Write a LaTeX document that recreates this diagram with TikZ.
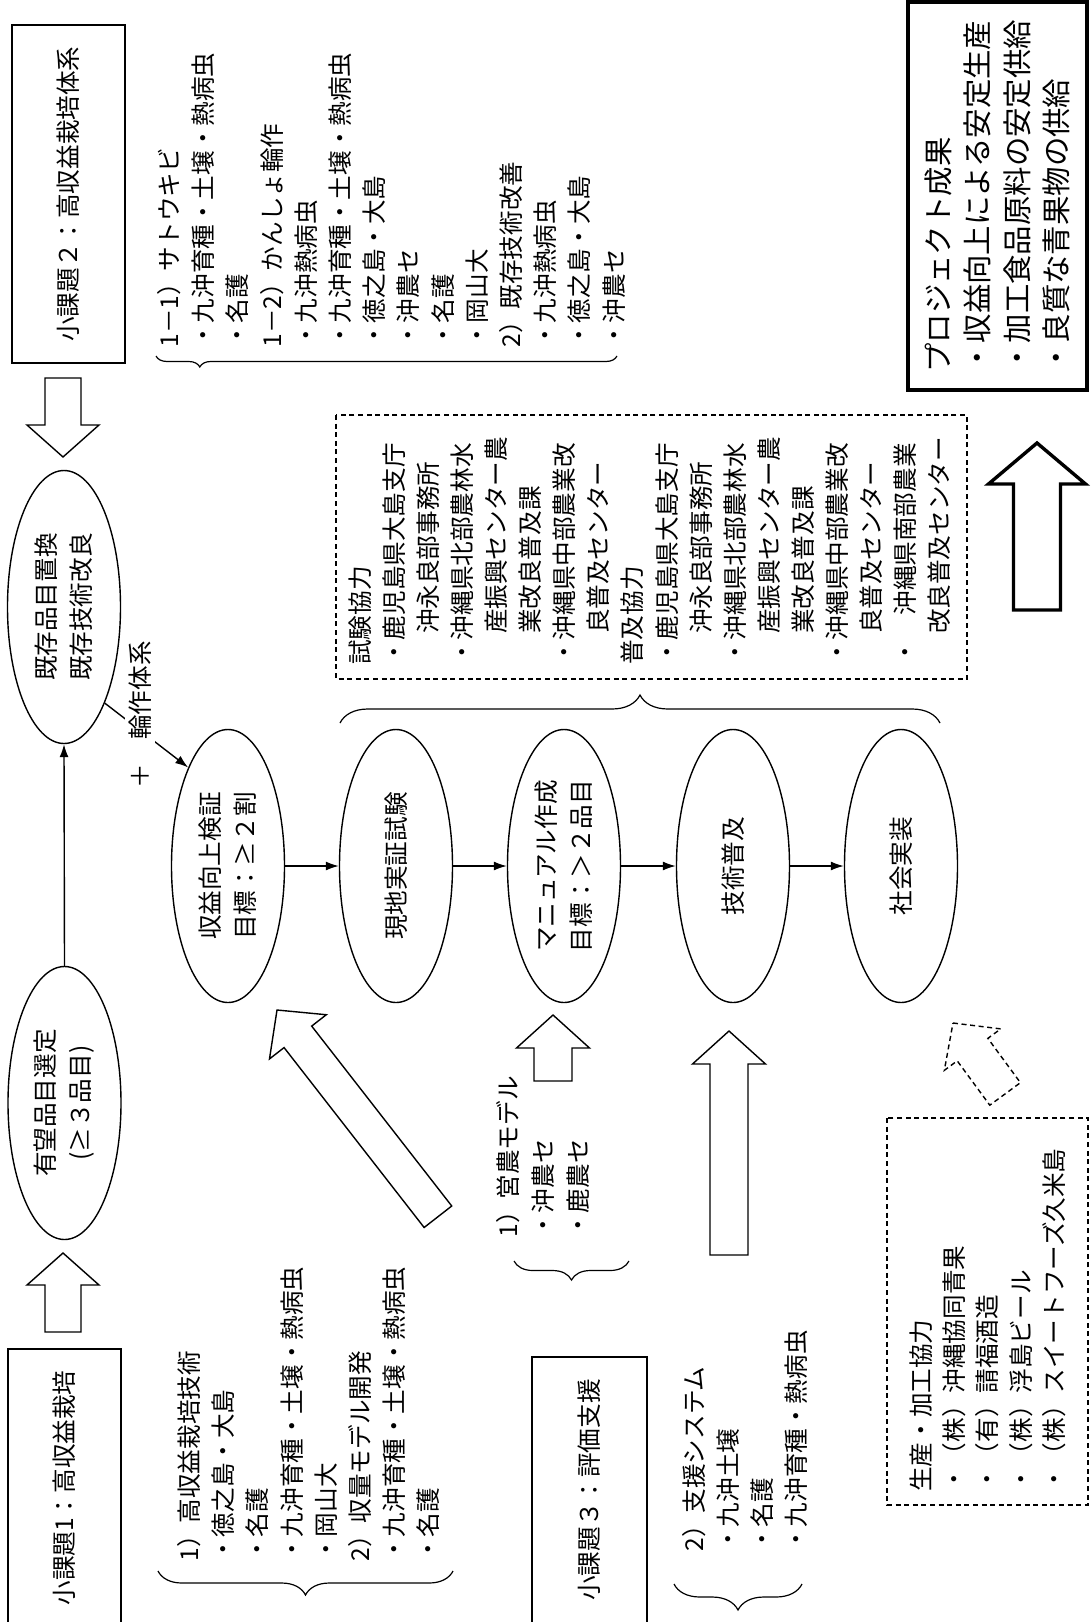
\documentclass[tikz,border=0pt]{standalone}
\usepackage{fontspec}
\setmainfont{Noto Sans CJK JP}
\usetikzlibrary{shapes.geometric, arrows.meta, decorations.pathreplacing}
\newcommand\blkarrow[7][]{\draw[blk,#1,shift={(#2)},rotate=#3] (0,0) -- (-#4,#5) -- (-#4,#6) -- (-#7,#6) -- (-#7,-#6) -- (-#4,-#6) -- (-#4,-#5) -- cycle;}
\begin{document}
\begin{tikzpicture}[x=0.5pt, y=-0.5pt,
  every node/.style={inner sep=0pt},
  lbl/.style={font=\fontsize{12.3}{17.1}\selectfont, rotate=90},
  vlist/.style={lbl, align=left, anchor=north west},
  oval/.style={ellipse, draw, line width=0.7pt, minimum width=136.5pt, minimum height=56.5pt, rotate=90, align=center, font=\fontsize{12.3}{17.5}\selectfont},
  titlebox/.style={draw, line width=0.7pt, rotate=90, font=\fontsize{12.3}{17.1}\selectfont},
  conn/.style={line width=0.7pt, -{Latex[length=6.5pt, width=4.5pt]}},
  brc/.style={line width=0.6pt, decorate, decoration={brace, amplitude=#1}},
  brcasym/.style 2 args={line width=0.6pt, decorate, decoration={brace, amplitude=#1, aspect=#2}},
  blk/.style={line width=0.7pt, fill=white},
  dashbox/.style={line width=0.7pt, dash pattern=on 2.5pt off 1.8pt},
]
\useasboundingbox (0,0) rectangle (1091,1622);
\fill[white] (0,0) rectangle (1091,1622);

% sub-project boxes
\node[titlebox, minimum width=169pt, minimum height=56.5pt] (sub2) at (68.5,194) {小課題２：高収益栽培体系};
\node[titlebox, minimum width=139pt, minimum height=56.5pt] (sub1) at (64.5,1488) {小課題1：高収益栽培};
\node[titlebox, minimum width=133pt, minimum height=57.5pt] (sub3) at (589.5,1490) {小課題３：評価支援};

% ellipses
\node[oval] (yubo) at (64.5,1103) {有望品目選定\\(≥３品目)};
\node[oval] (kizon) at (64,607) {既存品目置換\\既存技術改良};
\node[oval] (shueki) at (228,866) {収益向上検証\\目標：≥２割};
\node[oval] (genchi) at (396,866) {現地実証試験};
\node[oval] (manual) at (564,866) {マニュアル作成\\目標：＞２品目};
\node[oval] (fukyu) at (733,866) {技術普及};
\node[oval] (shakai) at (901,866) {社会実装};

% connectors
\draw[conn] (yubo.east) -- (kizon.west);
\draw[conn] (kizon.203.2) -- (shueki.22.7);
\draw[conn] (shueki.south) -- (genchi.north);
\draw[conn] (genchi.south) -- (manual.north);
\draw[conn] (manual.south) -- (fukyu.north);
\draw[conn] (fukyu.south) -- (shakai.north);
\node[lbl, fill=white, inner sep=2pt] (rinsaku) at (140,715) {＋　輪作体系};

% block arrows
\blkarrow{63,457}{-90}{32}{36}{18}{79}
\blkarrow{63,1253}{90}{32}{36}{18}{79}
\blkarrow{277,1010}{127.9}{34}{36}{17.5}{262}
\blkarrow{553,1015}{90}{33}{36.5}{19}{66}
\blkarrow{729,1031}{90}{33}{36.5}{19}{224}
\blkarrow[line width=1.7pt]{1037,443}{90}{41}{48.5}{23.5}{167}
\blkarrow[dash pattern=on 2.5pt off 1.8pt]{953,1023}{126.3}{33}{35}{19}{88}

% lists
\node[vlist] (list2) at (157,348) {1－1）サトウキビ\\・九沖育種・土壌・熱病虫\\・名護\\1－2）かんしょ輪作\\・九沖熱病虫\\・九沖育種・土壌・熱病虫\\・徳之島・大島\\・沖農セ\\・名護\\・岡山大\\2）既存技術改善\\・九沖熱病虫\\・徳之島・大島\\・沖農セ};
\draw[brcasym={5.5pt}{0.905}] (617,356) -- (156,356);

\node[vlist] (list1) at (177,1562) {1）高収益栽培技術\\・徳之島・大島\\・名護\\・九沖育種・土壌・熱病虫\\・岡山大\\2）収量モデル開発\\・九沖育種・土壌・熱病虫\\・名護};
\draw[brc=12pt] (453,1571) -- (158,1571);

\node[vlist, font=\fontsize{12.3}{17.5}\selectfont] (eino) at (496,1238) {1）営農モデル\\・沖農セ\\・鹿農セ};
\draw[brc=9.5pt] (629,1261) -- (514,1261);

\node[vlist, font=\fontsize{12.3}{17}\selectfont] (shien) at (682,1552) {2）支援システム\\・九沖土壌\\・名護\\・九沖育種・熱病虫};
\draw[brc=13pt] (802,1584) -- (674,1584);

% cooperation box
\draw[dashbox] (336,415) rectangle (967,679);
\node[vlist, font=\fontsize{12.3}{17.05}\selectfont] (kyoryoku) at (348,665) {試験協力\\・鹿児島県大島支庁\\\hspace*{1.25em}沖永良部事務所\\・沖縄県北部農林水\\\hspace*{1.25em}産振興センター農\\\hspace*{1.25em}業改良普及課\\・沖縄県中部農業改\\\hspace*{1.25em}良普及センター\\普及協力\\・鹿児島県大島支庁\\\hspace*{1.25em}沖永良部事務所\\・沖縄県北部農林水\\\hspace*{1.25em}産振興センター農\\\hspace*{1.25em}業改良普及課\\・沖縄県中部農業改\\\hspace*{1.25em}良普及センター\\・　沖縄県南部農業\\\hspace*{1.25em}改良普及センター};
\draw[brc=14pt] (340,723) -- (940,723);

% production box
\draw[dashbox] (887,1118) rectangle (1088,1505);
\node[vlist, font=\fontsize{12.3}{16.65}\selectfont] (seisan) at (909,1492) {生産・加工協力\\・（株）沖縄協同青果\\・（有）請福酒造\\・（株）浮島ビール\\・（株）スイートフーズ久米島};

% project results
\draw[line width=2pt] (908,2) rectangle (1087,390);
\node[vlist, font=\fontsize{14.7}{19.8}\selectfont] (seika) at (924,373) {プロジェクト成果\\・収益向上による安定生産\\・加工食品原料の安定供給\\・良質な青果物の供給};
\end{tikzpicture}
\end{document}
